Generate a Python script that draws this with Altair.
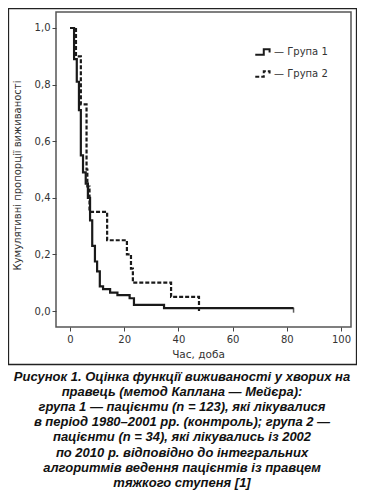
import altair as alt
import pandas as pd

# Kaplan–Meier estimates
g1_time = [0, 1.5, 2.5, 3.3, 4.0, 4.8, 5.8, 6.6, 7.4, 8.2, 9.2, 10.0, 11.0, 12.2, 14.8, 17.5, 22.0, 23.6, 34.7, 82.5]
g1_surv = [1.0, 0.89, 0.81, 0.71, 0.55, 0.49, 0.45, 0.40, 0.32, 0.23, 0.175, 0.14, 0.087, 0.077, 0.065, 0.056, 0.045, 0.022, 0.01, 0.01]
g2_time = [0, 2.2, 4.0, 6.1, 6.4, 7.2, 13.7, 21.0, 22.5, 23.2, 37.3, 47.6]
g2_surv = [1.0, 0.90, 0.73, 0.50, 0.44, 0.35, 0.25, 0.20, 0.15, 0.10, 0.05, 0.0]
groups = ["Група 1", "Група 2"]
censor_time = [82.5]
censor_surv = [0.01]

y_ticks = [0.0, 0.2, 0.4, 0.6, 0.8, 1.0]
x_ticks = [0, 20, 40, 60, 80, 100]

caption_lines = [
    "Рисунок 1. Оцінка функції виживаності у хворих на",
    "правець (метод Каплана — Мейєра):",
    "група 1 — пацієнти (n = 123), які лікувалися",
    "в період 1980–2001 рр. (контроль); група 2 —",
    "пацієнти (n = 34), які лікувались із 2002",
    "по 2010 р. відповідно до інтегральних",
    "алгоритмів ведення пацієнтів із правцем",
    "тяжкого ступеня [1]",
]

df = pd.concat([
    pd.DataFrame({"t": g1_time, "s": g1_surv, "g": groups[0]}),
    pd.DataFrame({"t": g2_time, "s": g2_surv, "g": groups[1]}),
])
cens = pd.DataFrame({"t": censor_time, "s": censor_surv})

W, H = 295, 315
FONT = "DejaVu Sans"

xscale = alt.Scale(domain=[-5.17, 103.7], nice=False, zero=False)
yscale = alt.Scale(domain=[-0.0565, 1.0565], nice=False, zero=False)

lines = alt.Chart(df).mark_line(interpolate="step-after", strokeWidth=2.2, color="#1a1a1a").encode(
    x=alt.X("t:Q", scale=xscale, axis=alt.Axis(
        values=x_ticks, title="Час, доба", grid=False, domain=False,
        tickColor="#444", tickSize=4, labelColor="#333", labelFont=FONT, labelFontSize=10,
        labelPadding=3, titleFont=FONT, titleFontSize=10.5, titleFontWeight="normal",
        titleColor="#333", titleX=142, titleY=27, titleBaseline="middle")),
    y=alt.Y("s:Q", scale=yscale, axis=alt.Axis(
        values=y_ticks, title="Кумулятивні пропорції виживаності", grid=False, domain=False,
        tickColor="#444", tickSize=4, labelColor="#333", labelFont=FONT, labelFontSize=10,
        labelPadding=2, labelExpr="replace(format(datum.value, '.1f'), '.', ',')",
        titleFont=FONT, titleFontSize=10, titleFontWeight="normal", titleColor="#333",
        titleX=-39, titleY=163, titleAngle=-90, titleBaseline="middle", titleAlign="center")),
    strokeDash=alt.StrokeDash("g:N", scale=alt.Scale(domain=groups, range=[[1, 0], [4, 2]]),
        legend=alt.Legend(title=None, orient="none", legendX=198, legendY=31,
            symbolType="M-1,0.35H0.1V-0.35H0.85V0.05", symbolSize=240,
            symbolStrokeWidth=2, symbolStrokeColor="#1a1a1a", symbolFillColor="transparent",
            labelExpr="'— ' + datum.label", labelFont=FONT, labelFontSize=10,
            labelColor="#333", rowPadding=6, labelOffset=2)),
)

censor = alt.Chart(cens).mark_tick(orient="vertical", size=5, thickness=1.5, color="#1a1a1a", yOffset=2).encode(
    x=alt.X("t:Q", scale=xscale), y=alt.Y("s:Q", scale=yscale))

border = alt.Chart(cens).mark_rect(fill=None, stroke="#222", strokeWidth=1.3, clip=False).encode(
    x=alt.value(-47.5), x2=alt.value(300.5), y=alt.value(-3.5), y2=alt.value(352.5))

caption = alt.Chart(pd.DataFrame({"txt": ["\n".join(caption_lines)]})).mark_text(
    font="Liberation Sans", fontSize=13, fontStyle="italic", fontWeight="bold",
    color="#111", align="center", baseline="alphabetic", lineBreak="\n", lineHeight=15.1,
).encode(text="txt:N", x=alt.value(126), y=alt.value(369))

chart = alt.layer(border, lines, censor, caption).properties(
    width=W, height=H,
    autosize=alt.AutoSizeParams(type="none"),
    padding={"left": 48, "top": 4, "right": 6, "bottom": 164},
).configure_view(stroke="#555", strokeWidth=1.5)

chart.save("out.html", embed_options={"renderer": "svg", "actions": False})
